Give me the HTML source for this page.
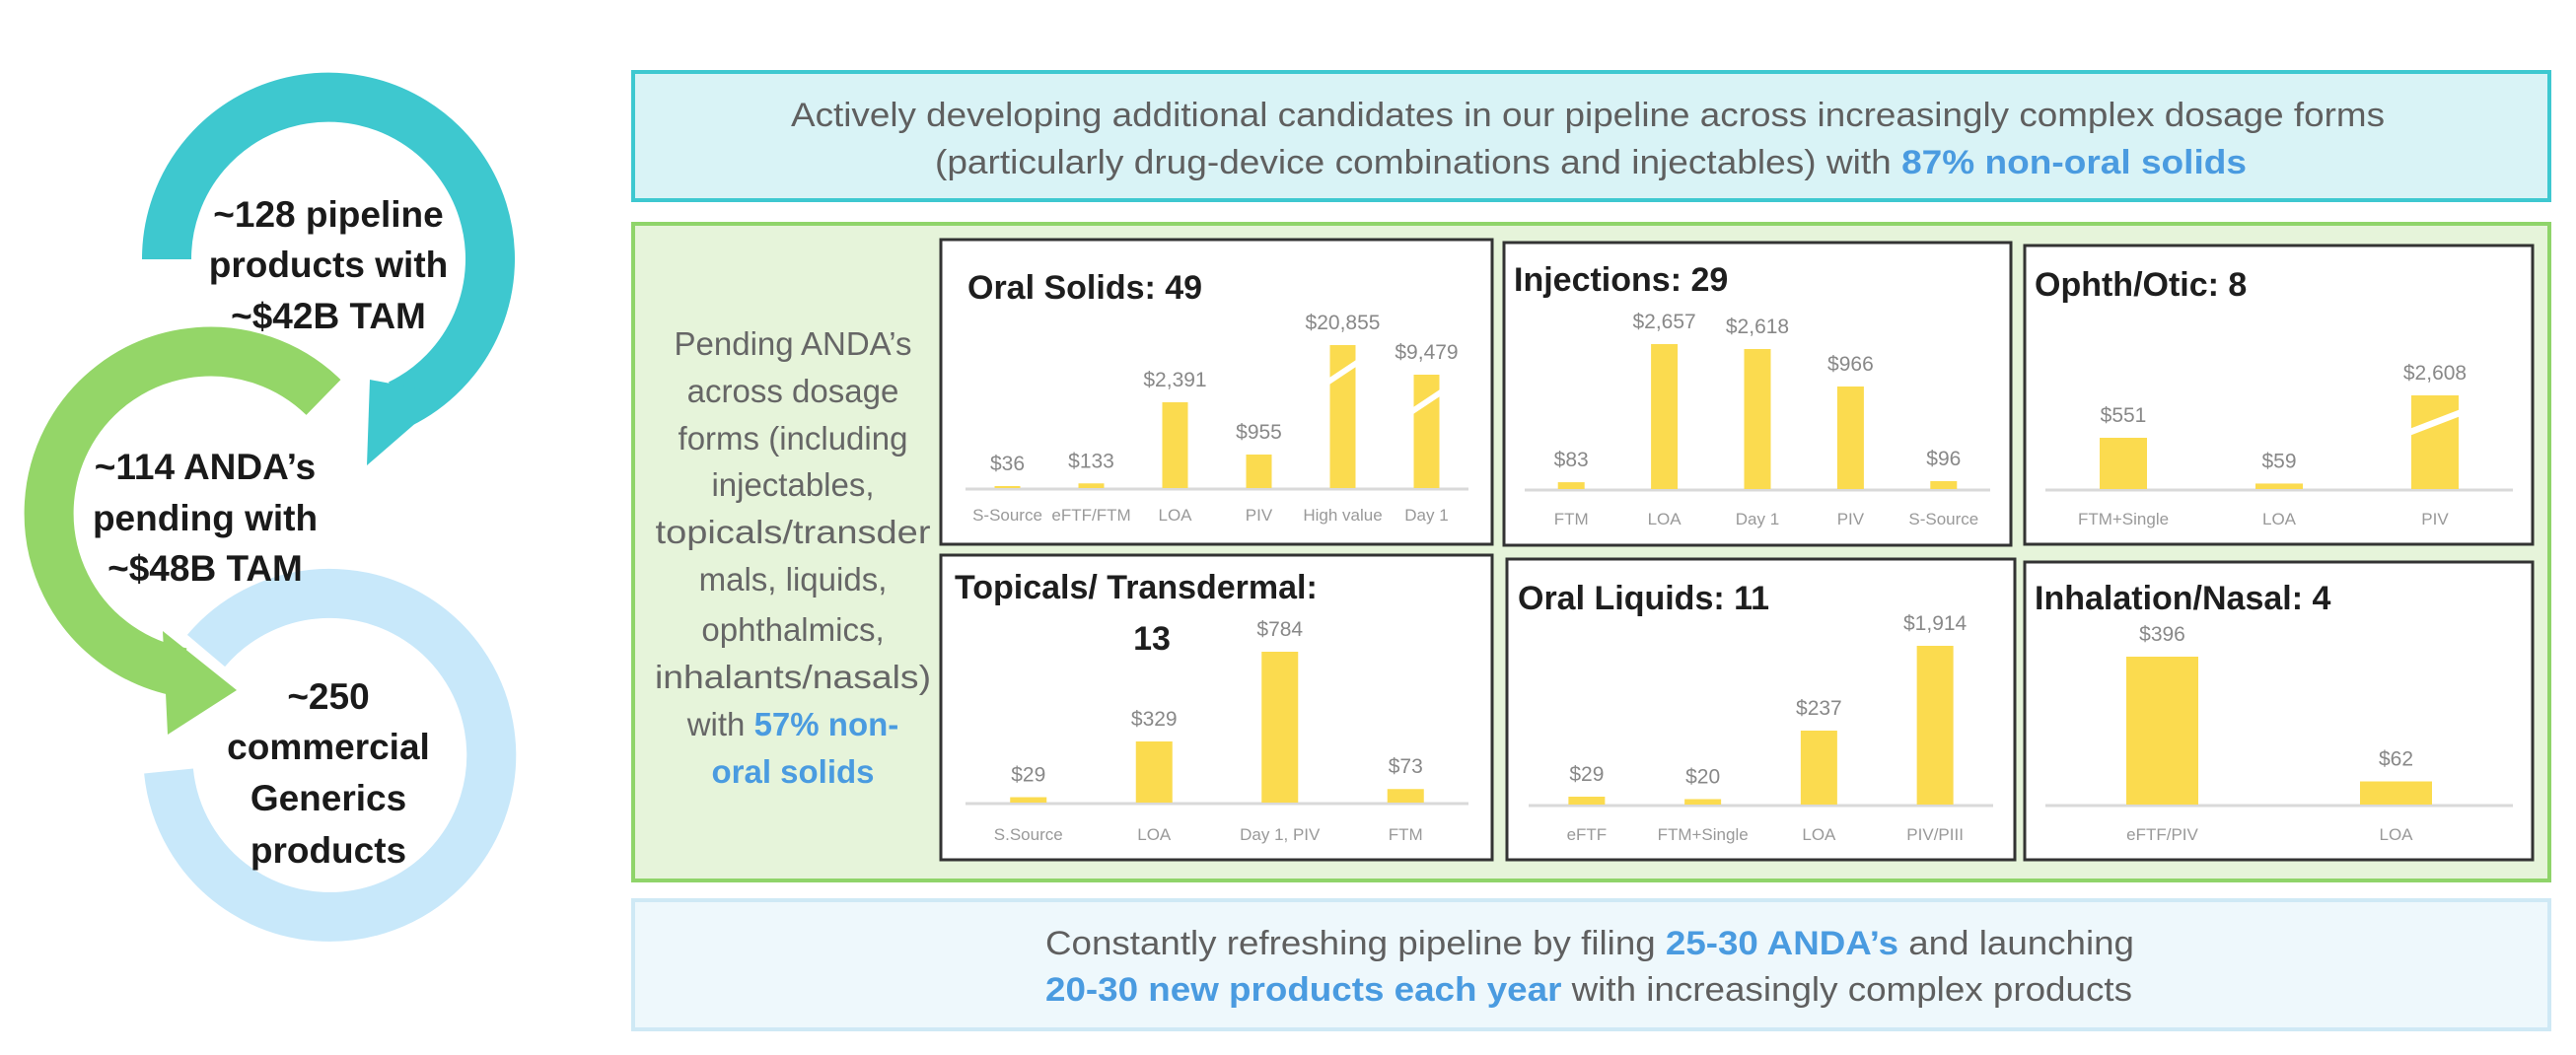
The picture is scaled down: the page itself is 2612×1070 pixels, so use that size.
<!DOCTYPE html>
<html><head><meta charset="utf-8"><style>
html,body{margin:0;padding:0;background:#fff;}
svg{display:block;}
text{font-family:"Liberation Sans",sans-serif;}
</style></head><body>
<svg id="page" width="2612" height="1070" viewBox="0 0 2612 1070" xmlns="http://www.w3.org/2000/svg">
<g>
  <path d="M 328 403 A 164 164 0 1 0 185 682" fill="none" stroke="#94d668" stroke-width="50"/>
  <polygon points="165,640 240,700 170,745" fill="#94d668"/>
  <path d="M 209 660 A 164 164 0 1 1 171 782" fill="none" stroke="#c8e8fa" stroke-width="50"/>
  <path d="M 169 263 A 164 164 0 1 1 405 410" fill="none" stroke="#3ec8cf" stroke-width="50"/>
  <polygon points="375,385 455,400 372,472" fill="#3ec8cf"/>
  <g font-weight="bold" font-size="37" fill="#1a1a1a" text-anchor="middle">
    <text x="333" y="230">~128 pipeline</text>
    <text x="333" y="281">products with</text>
    <text x="333" y="333">~$42B TAM</text>
    <text x="208" y="486">~114 ANDA’s</text>
    <text x="208" y="538">pending with</text>
    <text x="208" y="589">~$48B TAM</text>
    <text x="333" y="719">~250</text>
    <text x="333" y="770">commercial</text>
    <text x="333" y="822">Generics</text>
    <text x="333" y="875">products</text>
  </g>
</g>
<rect x="642" y="73" width="1943" height="130" fill="#d9f3f6" stroke="#3ec8d0" stroke-width="4"/>
<text x="1610" y="128" font-size="34" fill="#5f5f5f" text-anchor="middle" textLength="1616" lengthAdjust="spacingAndGlyphs">Actively developing additional candidates in our pipeline across increasingly complex dosage forms</text>
<text x="948" y="176" font-size="34" fill="#5f5f5f" textLength="1330" lengthAdjust="spacingAndGlyphs">(particularly drug-device combinations and injectables) with <tspan fill="#4a9be0" font-weight="bold">87% non-oral solids</tspan></text>
<rect x="642" y="227" width="1943" height="666" fill="#e6f4da" stroke="#8fd46a" stroke-width="4"/>
<g font-size="33" fill="#666" text-anchor="middle">
  <text x="804" y="360">Pending ANDA’s</text>
  <text x="804" y="408">across dosage</text>
  <text x="804" y="456">forms (including</text>
  <text x="804" y="503">injectables,</text>
  <text x="804" y="551" textLength="279" lengthAdjust="spacingAndGlyphs">topicals/transder</text>
  <text x="804" y="599">mals, liquids,</text>
  <text x="804" y="650">ophthalmics,</text>
  <text x="804" y="698" textLength="280" lengthAdjust="spacingAndGlyphs">inhalants/nasals)</text>
  <text x="804" y="746">with <tspan fill="#4a9be0" font-weight="bold">57% non-</tspan></text>
  <text x="804" y="794" fill="#4a9be0" font-weight="bold">oral solids</text>
</g>
<g id="charts"></g>
<rect x="642" y="913" width="1943" height="131" fill="#eef8fc" stroke="#cfe9f5" stroke-width="4"/>
<text x="1060" y="968" font-size="34" fill="#5f5f5f" textLength="1104" lengthAdjust="spacingAndGlyphs">Constantly refreshing pipeline by filing <tspan fill="#4a9be0" font-weight="bold">25-30 ANDA’s</tspan> and launching</text>
<text x="1060" y="1015" font-size="34" fill="#5f5f5f" textLength="1102" lengthAdjust="spacingAndGlyphs"><tspan fill="#4a9be0" font-weight="bold">20-30 new products each year</tspan> with increasingly complex products</text>
</svg>
<script>
const oralSolidsCats = ["S-Source","eFTF/FTM","LOA","PIV","High value","Day 1"];
const oralSolidsVals = [36,133,2391,955,20855,9479];
const oralSolidsBroken = [0,0,0,0,1,1];
const injectionsCats = ["FTM","LOA","Day 1","PIV","S-Source"];
const injectionsVals = [83,2657,2618,966,96];
const injectionsBroken = [0,0,0,0,0];
const ophthCats = ["FTM+Single","LOA","PIV"];
const ophthVals = [551,59,2608];
const ophthBroken = [0,0,1];
const topicalsCats = ["S.Source","LOA","Day 1, PIV","FTM"];
const topicalsVals = [29,329,784,73];
const topicalsBroken = [0,0,0,0];
const liquidsCats = ["eFTF","FTM+Single","LOA","PIV/PIII"];
const liquidsVals = [29,20,237,1914];
const liquidsBroken = [0,0,0,0];
const inhalationCats = ["eFTF/PIV","LOA"];
const inhalationVals = [396,62];
const inhalationBroken = [0,0];

const NS = "http://www.w3.org/2000/svg";
const panels = [
 {name:"oral-solids",title:["Oral Solids: 49"],box:[954,243,559,309],ax:[979,1489],base:495,dom:[0,955,2391,9479,20855],rng:[0,34,87,115,145],bw:26,cats:oralSolidsCats,vals:oralSolidsVals,brk:oralSolidsBroken,ty:303,tx:981,lab:528},
 {name:"injections",title:["Injections: 29"],box:[1525,246,514,307],ax:[1546,2018],base:496,dom:[0,96,966,2618,2657],rng:[0,8,104,142,147],bw:27,cats:injectionsCats,vals:injectionsVals,brk:injectionsBroken,ty:295,tx:1535,lab:532},
 {name:"ophth-otic",title:["Ophth/Otic: 8"],box:[2053,249,515,303],ax:[2074,2548],base:496,dom:[0,551,2608],rng:[0,52,95],bw:48,cats:ophthCats,vals:ophthVals,brk:ophthBroken,ty:300,tx:2063,lab:532},
 {name:"topicals-transdermal",title:["Topicals/ Transdermal:","13"],box:[954,563,559,309],ax:[979,1489],base:814,dom:[0,329,784],rng:[0,62,153],bw:37,cats:topicalsCats,vals:topicalsVals,brk:topicalsBroken,ty:607,tx:968,lab:852},
 {name:"oral-liquids",title:["Oral Liquids: 11"],box:[1528,567,515,305],ax:[1550,2021],base:816,dom:[0,29,237,1914],rng:[0,8,75,161],bw:37,cats:liquidsCats,vals:liquidsVals,brk:liquidsBroken,ty:618,tx:1539,lab:852},
 {name:"inhalation-nasal",title:["Inhalation/Nasal: 4"],box:[2053,570,515,302],ax:[2074,2548],base:816,dom:[0,396],rng:[0,150],bw:73,cats:inhalationCats,vals:inhalationVals,brk:inhalationBroken,ty:618,tx:2063,lab:852}
];
function yScale(p,v){
  const d=p.dom,r=p.rng;
  for(let i=1;i<d.length;i++){ if(v<=d[i]) return r[i-1]+(v-d[i-1])/(d[i]-d[i-1])*(r[i]-r[i-1]); }
  const n=d.length-1; return r[n]+(v-d[n])/(d[n]-d[n-1])*(r[n]-r[n-1]);
}
function xBand(p,i){ const step=(p.ax[1]-p.ax[0])/p.cats.length; return p.ax[0]+(i+0.5)*step; }
function fmt(v){ return "$"+v.toLocaleString("en-US"); }
function mk(tag,attrs,parent){ const e=document.createElementNS(NS,tag); for(const k in attrs) e.setAttribute(k,attrs[k]); parent.appendChild(e); return e; }
const root=document.getElementById("charts");
panels.forEach(p=>{
  const g=mk("g",{},root);
  
  
  const r=mk("rect",{x:p.box[0],y:p.box[1],width:p.box[2],height:p.box[3],fill:"#fff",stroke:"#333","stroke-width":3},g);
  
  
  const t=mk("text",{x:p.tx,y:p.ty,"font-size":34,"font-weight":"bold",fill:"#1e1e1e"},g);
  t.textContent=p.title[0];
  
  
  if(p.title[1]){
    const t2=mk("text",{x:1168,y:659,"font-size":34,"font-weight":"bold",fill:"#1e1e1e","text-anchor":"middle"},g);
    t2.textContent=p.title[1];
    
    
  }
  const ax=mk("line",{x1:p.ax[0],x2:p.ax[1],y1:p.base+1,y2:p.base+1,stroke:"#d9d9d9","stroke-width":3},g);
  
  
  p.vals.forEach((v,i)=>{
    const cx=xBand(p,i), h=Math.max(yScale(p,v),2), top=p.base-h;
    const b=mk("rect",{x:cx-p.bw/2,y:top,width:p.bw,height:h,fill:"#fbdb4f"},g);
    
    
    if(p.brk[i]){
      const yb=top+Math.min(22,h*0.4);
      const s=mk("polygon",{points:(cx-p.bw/2-2)+","+(yb+12)+" "+(cx+p.bw/2+2)+","+(yb-8)+" "+(cx+p.bw/2+2)+","+(yb-1)+" "+(cx-p.bw/2-2)+","+(yb+19),fill:"#fff"},g);
      
      
    }
    const vl=mk("text",{x:cx,y:top-16,"font-size":21,fill:"#888","text-anchor":"middle"},g);
    vl.textContent=fmt(v);
    
    
    const cl=mk("text",{x:cx,y:p.lab,"font-size":17,fill:"#999","text-anchor":"middle"},g);
    cl.textContent=p.cats[i];
    
    
  });
});
</script>
</body></html>
